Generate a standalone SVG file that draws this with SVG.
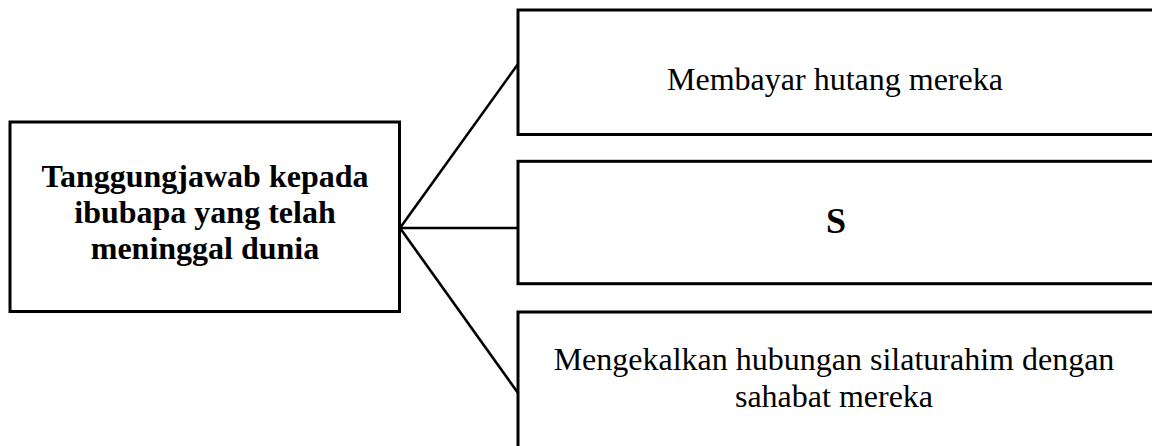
<svg xmlns="http://www.w3.org/2000/svg" width="1152" height="446" viewBox="0 0 1152 446">
<style>
.box{fill:#fff;stroke:#000;stroke-width:3}
.conn{stroke:#000;stroke-width:2.6;fill:none}
.t{font-family:"Liberation Serif","Times New Roman",serif;font-size:32px;fill:#000;text-anchor:middle}
.b{font-weight:bold}
</style>
<rect width="1152" height="446" fill="#fff"/>
<g id="connectors">
<line class="conn" x1="400" y1="228" x2="518" y2="64"/>
<line class="conn" x1="400" y1="228" x2="518" y2="228"/>
<line class="conn" x1="400" y1="228" x2="518" y2="393"/>
</g>
<g id="node-main">
<rect class="box" x="10" y="122" width="389.5" height="189.5"/>
<text class="t b" x="205" y="187">Tanggungjawab kepada</text>
<text class="t b" x="205" y="223">ibubapa yang telah</text>
<text class="t b" x="205" y="259">meninggal dunia</text>
</g>
<g id="node-1">
<rect class="box" x="518" y="10" width="650" height="124.5"/>
<text class="t" x="835" y="90">Membayar hutang mereka</text>
</g>
<g id="node-2">
<rect class="box" x="518" y="161.3" width="650" height="122.4"/>
<text class="t b" x="836" y="233" style="font-size:36px">S</text>
</g>
<g id="node-3">
<rect class="box" x="518" y="312" width="650" height="160"/>
<text class="t" x="834" y="370">Mengekalkan hubungan silaturahim dengan</text>
<text class="t" x="834" y="407">sahabat mereka</text>
</g>
</svg>
